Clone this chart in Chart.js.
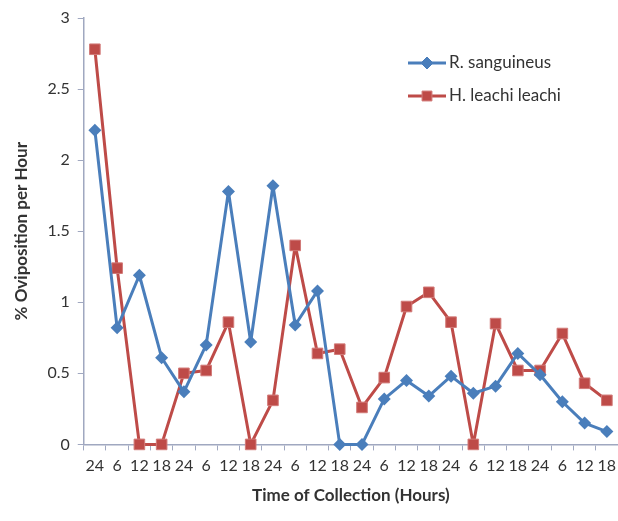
<!DOCTYPE html>
<html lang="en">
<head>
    <meta charset="UTF-8">
    <title>% Oviposition per Hour</title>
    <script src="https://cdn.jsdelivr.net/npm/chart.js"></script>
    <style>
        html, body { margin: 0; padding: 0; background: #fff; }
        .chart-container { position: relative; width: 618px; height: 521px; }
    </style>
</head>
<body>
    <div class="chart-container">
        <canvas id="ovipositionChart" width="618" height="521"></canvas>
    </div>

    <script>
        // 採取時刻のラベル
        const hourLabels = ['24', '6', '12', '18', '24', '6', '12', '18', '24', '6', '12', '18',
                            '24', '6', '12', '18', '24', '6', '12', '18', '24', '6', '12', '18'];

        // R. sanguineus
        const sanguineusValues = [2.21, 0.82, 1.19, 0.61, 0.37, 0.70, 1.78, 0.72, 1.82, 0.84, 1.08, 0,
                                  0, 0.32, 0.45, 0.34, 0.48, 0.36, 0.41, 0.64, 0.49, 0.30, 0.15, 0.09];

        // H. leachi leachi
        const leachiValues = [2.78, 1.24, 0, 0, 0.50, 0.52, 0.86, 0, 0.31, 1.40, 0.64, 0.67,
                              0.26, 0.47, 0.97, 1.07, 0.86, 0, 0.85, 0.52, 0.52, 0.78, 0.43, 0.31];

        const yTicks = [0, 0.5, 1, 1.5, 2, 2.5, 3];

        const blue = '#4a7ebb';
        const red = '#be4b48';
        const redEdge = '#d27a78';
        const axisColor = '#a0a8c0';
        const textColor = '#333333';
        const fontFamily = 'Lato, "Open Sans", sans-serif';

        // 凡例をプロット内に描く
        const insideLegend = {
            id: 'insideLegend',
            afterDraw(chart) {
                const ctx = chart.ctx;
                const items = [
                    { label: 'R. sanguineus', color: blue, edge: blue, style: 'rectRot', r: 6 },
                    { label: 'H. leachi leachi', color: red, edge: redEdge, style: 'rect', r: 7 }
                ];
                ctx.save();
                items.forEach((item, i) => {
                    const y = 63 + i * 33;
                    const x0 = 408, x1 = 446;
                    ctx.strokeStyle = item.color;
                    ctx.lineWidth = 3;
                    ctx.beginPath();
                    ctx.moveTo(x0, y);
                    ctx.lineTo(x1, y);
                    ctx.stroke();
                    ctx.fillStyle = item.color;
                    ctx.strokeStyle = item.edge;
                    ctx.lineWidth = 1;
                    Chart.helpers.drawPoint(ctx, { pointStyle: item.style, radius: item.r, borderWidth: 1 }, (x0 + x1) / 2, y);
                    ctx.fillStyle = textColor;
                    ctx.font = '17px ' + fontFamily;
                    ctx.textBaseline = 'middle';
                    ctx.fillText(item.label, x1 + 3, y);
                });
                ctx.restore();
            }
        };

        const ctx = document.getElementById('ovipositionChart').getContext('2d');
        new Chart(ctx, {
            type: 'line',
            data: {
                labels: hourLabels,
                datasets: [
                    {
                        label: 'R. sanguineus',
                        data: sanguineusValues,
                        borderColor: blue,
                        backgroundColor: blue,
                        borderWidth: 3,
                        borderJoinStyle: 'round',
                        pointStyle: 'rectRot',
                        pointRadius: 6.5,
                        pointBorderWidth: 0,
                        tension: 0,
                        clip: false,
                        fill: false
                    },
                    {
                        label: 'H. leachi leachi',
                        data: leachiValues,
                        borderColor: red,
                        backgroundColor: red,
                        borderWidth: 3,
                        borderJoinStyle: 'round',
                        pointStyle: 'rect',
                        pointRadius: 7.5,
                        pointBorderWidth: 1,
                        pointBorderColor: redEdge,
                        tension: 0,
                        clip: false,
                        fill: false
                    }
                ]
            },
            options: {
                responsive: false,
                animation: false,
                layout: { autoPadding: false, padding: { top: 18, right: 0, left: 7, bottom: 11 } },
                plugins: {
                    legend: { display: false },
                    tooltip: { enabled: false }
                },
                scales: {
                    x: {
                        offset: true,
                        afterFit(scale) {
                            scale.paddingLeft = 0;
                            scale.paddingRight = 0;
                        },
                        grid: {
                            offset: true,
                            drawOnChartArea: false,
                            drawTicks: true,
                            tickLength: 6,
                            color: axisColor
                        },
                        border: { color: axisColor, width: 1.5 },
                        ticks: {
                            color: textColor,
                            font: { family: fontFamily, size: 16 },
                            maxRotation: 0,
                            autoSkip: false,
                            padding: 6
                        },
                        title: {
                            display: true,
                            text: 'Time of Collection (Hours)',
                            color: textColor,
                            font: { family: fontFamily, size: 17, weight: 'bold' },
                            padding: { top: 4 }
                        }
                    },
                    y: {
                        min: 0,
                        max: 3,
                        afterBuildTicks(axis) {
                            axis.ticks = yTicks.map(v => ({ value: v }));
                        },
                        grid: {
                            drawOnChartArea: false,
                            drawTicks: true,
                            tickLength: 6,
                            color: axisColor
                        },
                        border: { color: axisColor, width: 1.5 },
                        ticks: {
                            color: textColor,
                            font: { family: fontFamily, size: 16 },
                            padding: 8,
                            callback: v => String(v)
                        },
                        title: {
                            display: true,
                            text: '% Oviposition per Hour',
                            color: textColor,
                            font: { family: fontFamily, size: 17, weight: 'bold' },
                            padding: { bottom: 8 }
                        }
                    }
                }
            },
            plugins: [insideLegend]
        });
    </script>
</body>
</html>
